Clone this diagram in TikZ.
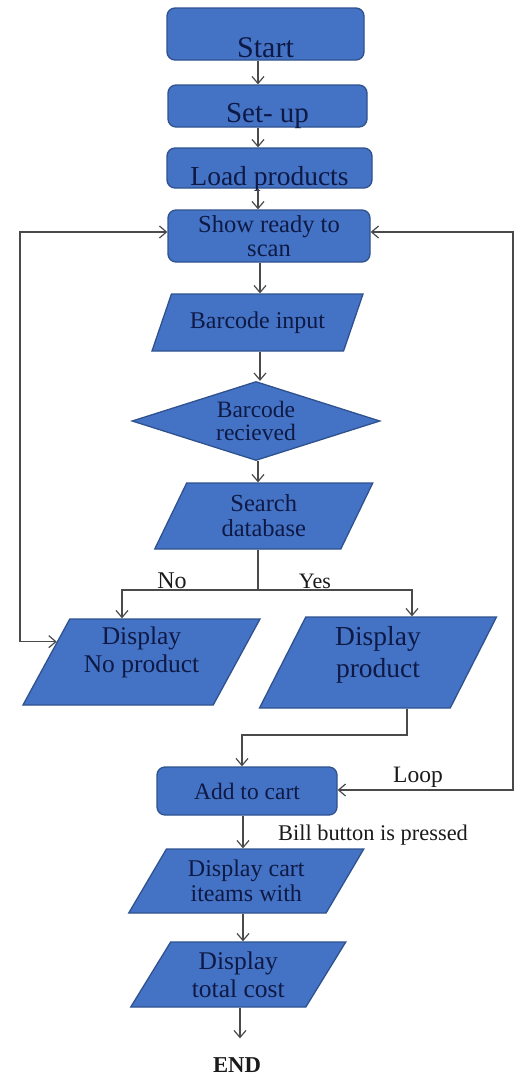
\documentclass[tikz,border=0pt]{standalone}
\usepackage{fontspec}
\setmainfont{Liberation Serif}
\usetikzlibrary{shapes.geometric,arrows.meta,calc}
\definecolor{fillblue}{HTML}{4472C4}
\definecolor{edgeblue}{HTML}{2F528F}
\definecolor{inktext}{HTML}{0E1A45}
\definecolor{wire}{HTML}{4A4A4A}
\definecolor{labelink}{HTML}{1A1A1A}
\newcommand{\fs}[2]{\fontsize{#1}{#2}\selectfont}
\begin{document}
\begin{tikzpicture}[x=1pt,y=-1pt,
  rbox/.style={draw=edgeblue, fill=fillblue, line width=1.3pt, rounded corners=8pt, text=inktext, inner xsep=0pt, inner ysep=0pt, align=center},
  para/.style={trapezium, trapezium stretches body, draw=edgeblue, fill=fillblue, line width=1.3pt, text=inktext, inner sep=0pt, align=center},
  dia/.style={diamond, aspect=3.1, draw=edgeblue, fill=fillblue, line width=1.3pt, text=inktext, inner sep=0pt, align=center},
  arr/.style={draw=wire, line width=1.2pt, -{Straight Barb[length=7pt,width=12pt]}},
  twoarr/.style={draw=wire, line width=1.2pt, {Straight Barb[length=7pt,width=12pt]}-{Straight Barb[length=7pt,width=12pt]}},
  plain/.style={draw=wire, line width=1.2pt},
  lbl/.style={text=labelink, inner sep=0pt}]
\useasboundingbox (0,0) rectangle (518,1077);
\fill[white] (0,0) rectangle (518,1077);

% nodes
\node[rbox, minimum width=197pt, minimum height=52pt, text height=46pt, text depth=0pt, font=\fs{30}{30}] (start) at (265.5,34) {Start};
\node[rbox, minimum width=199pt, minimum height=42pt, text height=32pt, text depth=0pt, font=\fs{29}{29}] (setup) at (267.5,106) {Set- up};
\node[rbox, minimum width=205pt, minimum height=40pt, text height=34pt, text depth=0pt, font=\fs{27.5}{27.5}] (load) at (269.5,168) {Load products};
\node[rbox, minimum width=202pt, minimum height=52pt, font=\fs{24.5}{23.5}] (show) at (269,236) {Show ready to\\scan};

\node[para, trapezium left angle=48.2, trapezium right angle=131.8, minimum width=211pt, minimum height=57pt, font=\fs{24}{24}] (bin) at (257.5,322.5) {\makebox[0pt]{Barcode input}};
\node[dia, minimum width=248pt, minimum height=79pt, font=\fs{23.5}{23}] (recv) at (256,421) {Barcode\\recieved};
\node[para, trapezium left angle=52.9, trapezium right angle=127.1, minimum width=218pt, minimum height=66pt, font=\fs{24.5}{25}] (search) at (263.75,516) {Search\\database};

\node[para, trapezium left angle=56.5, trapezium right angle=123.5, minimum width=237pt, minimum height=86pt, font=\fs{25.5}{28}] (nop) at (141.5,662) {Display\\No product\rule[-25pt]{0pt}{0pt}};
\node[para, trapezium left angle=57.3, trapezium right angle=122.7, minimum width=237pt, minimum height=91pt, font=\fs{27.5}{32}] (dprod) at (378,662.5) {Display\\product\rule[-21pt]{0pt}{0pt}};

\node[rbox, minimum width=180pt, minimum height=48pt, font=\fs{23.5}{23.5}] (cart) at (247,791) {Add to cart};

\node[para, trapezium left angle=48, trapezium right angle=132, minimum width=235pt, minimum height=64pt, font=\fs{24}{25}] (dcart) at (246.25,881) {Display cart\\iteams with};
\node[para, trapezium left angle=49, trapezium right angle=131, minimum width=215pt, minimum height=65pt, font=\fs{25.5}{28}] (total) at (238.25,974.5) {Display\\total cost};

\node[lbl, font=\bfseries\fs{22.7}{22.7}] (end) at (237,1065) {END};

% labels
\node[lbl, font=\fs{24}{24}] (nolbl) at (172,581) {No};
\node[lbl, font=\fs{22}{22}] (yeslbl) at (315,581) {Yes};
\node[lbl, font=\fs{23.5}{23.5}] (looplbl) at (418,777) {Loop};
\node[lbl, font=\fs{22.4}{22.4}] (billlbl) at (373,835) {Bill button is pressed};

% helper coordinates
\coordinate (col) at (258,0);
\coordinate (col2) at (260,0);
\coordinate (split) at (258,590);
\coordinate (noturn) at (122,590);
\coordinate (yesturn) at (412,590);
\coordinate (lx) at (20,0);
\coordinate (rx) at (513,0);
\coordinate (dpx) at (407,0);
\coordinate (mid) at (242,735);
\coordinate (c2) at (243,0);
\coordinate (c3) at (240,0);
\coordinate (nopin) at ($(nop.bottom left corner)!0.733!(nop.top left corner)$);

% connectors
\draw[arr] (start.south -| col) -- (setup.north -| col);
\draw[arr] (setup.south -| col) -- (load.north -| col);
\draw[arr] (load.south -| col) -- (show.north -| col);
\draw[arr] (show.south -| col2) -- (bin.north -| col2);
\draw[arr] (bin.south -| col2) -- (recv.north -| col2);
\draw[arr] (recv.south -| col) -- (search.north -| col);
\draw[plain] (search.south -| split) -- (split);
\draw[arr] (split) -- (noturn) -- (noturn |- nop.north);
\draw[arr] (split) -- (yesturn) -- (yesturn |- dprod.north);
\draw[twoarr] (nopin) -- (nopin -| lx) -- ([yshift=4pt]lx |- show.west) -- ([yshift=4pt]show.west);
\draw[twoarr] ([yshift=1pt]cart.east) -- ([yshift=1pt]rx |- cart.east) -- ([yshift=4pt]rx |- show.east) -- ([yshift=4pt]show.east);
\draw[arr] (dprod.south -| dpx) -- (dpx |- mid) -- (mid) -- (mid |- cart.north);
\draw[arr] (cart.south -| c2) -- (dcart.north -| c2);
\draw[arr] (dcart.south -| c2) -- (total.north -| c2);
\draw[arr, shorten >=19pt] (total.south -| c3) -- (end.north -| c3);
\end{tikzpicture}
\end{document}
